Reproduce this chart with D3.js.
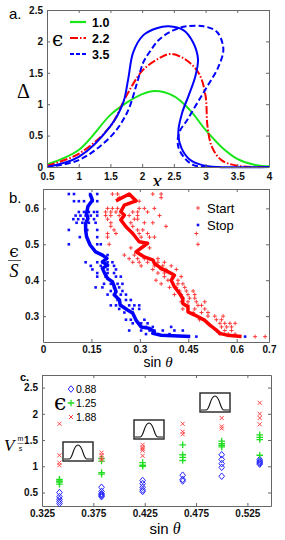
<!DOCTYPE html>
<html>
<head>
<meta charset="utf-8">
<script src="https://cdn.jsdelivr.net/npm/d3@7"></script>
<style>
  body { margin: 0; background: #fff; }
  svg { display: block; font-family: 'Liberation Sans', Arial, sans-serif; }
  .axis text { font: bold 10px 'Liberation Sans', Arial, sans-serif; fill: #111; }
  .axis path, .axis line { stroke: #666; }
  .serif { font-family: 'DejaVu Serif', 'Liberation Serif', serif; }
</style>
</head>
<body>
<svg id="fig" width="285" height="540"></svg>
<script>
// Panel a: profiles Delta(x) for three values of epsilon
var xTicksA = [ 0.5, 1, 1.5, 2, 2.5, 3, 3.5, 4 ];
var yTicksA = [ 0, 0.5, 1, 1.5, 2, 2.5 ];
var legendA = [ '1.0', '2.2', '3.5' ];
var profileGreen = [ [ 0.5, 0.04 ], [ 1.0, 0.27 ], [ 1.5, 0.83 ], [ 1.75, 1.02 ], [ 2.0, 1.16 ], [ 2.2, 1.21 ],
  [ 2.5, 1.13 ], [ 2.75, 0.91 ], [ 3.0, 0.59 ], [ 3.25, 0.32 ], [ 3.5, 0.13 ], [ 3.75, 0.04 ], [ 4.0, 0.01 ] ];
var profileRed = [ [ 0.5, 0.02 ], [ 1.0, 0.21 ], [ 1.5, 0.65 ], [ 1.75, 1.13 ], [ 2.0, 1.53 ], [ 2.25, 1.72 ],
  [ 2.45, 1.8 ], [ 2.7, 1.7 ], [ 2.9, 1.48 ], [ 3.0, 1.13 ], [ 3.03, 0.65 ], [ 3.1, 0.32 ], [ 3.25, 0.11 ],
  [ 3.5, 0.02 ], [ 4.0, 0.0 ] ];
var profileBlue = [ [ 0.5, 0.0 ], [ 1.0, 0.16 ], [ 1.5, 0.65 ], [ 1.7, 1.02 ], [ 1.78, 1.4 ], [ 1.86, 1.83 ],
  [ 2.02, 2.1 ], [ 2.23, 2.21 ], [ 2.42, 2.24 ], [ 2.65, 2.18 ], [ 2.8, 1.99 ], [ 2.88, 1.72 ], [ 2.84, 1.45 ],
  [ 2.73, 1.13 ], [ 2.63, 0.86 ], [ 2.57, 0.55 ], [ 2.62, 0.3 ], [ 2.75, 0.12 ], [ 2.95, 0.03 ], [ 3.2, 0.0 ],
  [ 4.0, 0.0 ] ];
var profileBlueDash = [ [ 0.5, 0.0 ], [ 1.0, 0.11 ], [ 1.5, 0.48 ], [ 1.76, 0.86 ], [ 1.92, 1.34 ], [ 2.02, 1.67 ],
  [ 2.13, 1.85 ], [ 2.28, 2.04 ], [ 2.5, 2.18 ], [ 2.7, 2.24 ], [ 2.97, 2.24 ], [ 3.18, 2.15 ], [ 3.28, 1.88 ],
  [ 3.2, 1.59 ], [ 3.03, 1.29 ], [ 2.87, 1.02 ], [ 2.71, 0.75 ], [ 2.58, 0.54 ], [ 2.57, 0.32 ], [ 2.68, 0.13 ],
  [ 2.81, 0.03 ], [ 3.0, 0.0 ] ];

// Panel b: start / stop thresholds, epsilon/S against sin(theta)
var xTicksB = [ 0, 0.15, 0.3, 0.45, 0.6, 0.7 ];
var yTicksB = [ 0.3, 0.4, 0.5, 0.6 ];
var stopRows = [
  { y: 0.64, x: [ 0.080, 0.096, 0.146, 0.168 ] },
  { y: 0.62, x: [ 0.096, 0.111, 0.127, 0.153, 0.168 ] },
  { y: 0.59, x: [ 0.111, 0.127, 0.142, 0.158, 0.168 ] },
  { y: 0.58, x: [ 0.101, 0.116, 0.132, 0.148, 0.168 ] },
  { y: 0.57, x: [ 0.094, 0.109, 0.125, 0.139, 0.158 ] },
  { y: 0.56, x: [ 0.104, 0.122, 0.142, 0.163 ] },
  { y: 0.54, x: [ 0.080, 0.137, 0.168 ] },
  { y: 0.52, x: [ 0.114, 0.168 ] },
  { y: 0.50, x: [ 0.080, 0.168, 0.179 ] },
  { y: 0.47, x: [ 0.184, 0.200 ] },
  { y: 0.45, x: [ 0.132, 0.168, 0.184, 0.200, 0.215 ] },
  { y: 0.44, x: [ 0.148, 0.179, 0.200, 0.220 ] },
  { y: 0.43, x: [ 0.153, 0.200, 0.226 ] },
  { y: 0.42, x: [ 0.168, 0.200, 0.220 ] },
  { y: 0.41, x: [ 0.168, 0.194, 0.226, 0.241 ] },
  { y: 0.39, x: [ 0.189, 0.210, 0.231, 0.246 ] },
  { y: 0.38, x: [ 0.163, 0.184, 0.220, 0.236 ] },
  { y: 0.37, x: [ 0.210, 0.226, 0.246 ] },
  { y: 0.36, x: [ 0.200, 0.220, 0.241, 0.257 ] },
  { y: 0.345, x: [ 0.231, 0.257, 0.272 ] },
  { y: 0.33, x: [ 0.210, 0.226, 0.241, 0.267, 0.283, 0.298 ] },
  { y: 0.32, x: [ 0.236, 0.278, 0.298 ] },
  { y: 0.31, x: [ 0.252, 0.278 ] },
  { y: 0.29, x: [ 0.257, 0.272, 0.314 ] },
  { y: 0.28, x: [ 0.278, 0.304, 0.324 ] },
  { y: 0.27, x: [ 0.319, 0.340, 0.397 ] },
  { y: 0.26, x: [ 0.267, 0.304, 0.330, 0.345, 0.371, 0.407, 0.433 ] },
  { y: 0.25, x: [ 0.319, 0.356, 0.392 ] },
  { y: 0.243, x: [ 0.475, 0.626 ] }
];
var startRows = [
  { y: 0.64, x: [ 0.215, 0.231, 0.340, 0.366 ] },
  { y: 0.63, x: [ 0.236, 0.366 ] },
  { y: 0.62, x: [ 0.288, 0.298 ] },
  { y: 0.60, x: [ 0.200, 0.215, 0.231, 0.298, 0.314, 0.345 ] },
  { y: 0.59, x: [ 0.194, 0.210, 0.226, 0.278, 0.293, 0.324 ] },
  { y: 0.58, x: [ 0.194, 0.210, 0.236, 0.267, 0.293, 0.361 ] },
  { y: 0.57, x: [ 0.200, 0.283, 0.293 ] },
  { y: 0.56, x: [ 0.210, 0.272, 0.314, 0.340 ] },
  { y: 0.55, x: [ 0.210, 0.278, 0.381 ] },
  { y: 0.54, x: [ 0.220, 0.293, 0.309 ] },
  { y: 0.53, x: [ 0.200, 0.226, 0.298, 0.324, 0.475 ] },
  { y: 0.52, x: [ 0.200, 0.304, 0.330, 0.345 ] },
  { y: 0.50, x: [ 0.205, 0.314, 0.480 ] },
  { y: 0.49, x: [ 0.272, 0.304, 0.330 ] },
  { y: 0.47, x: [ 0.252, 0.283, 0.304 ] },
  { y: 0.46, x: [ 0.267, 0.293, 0.314, 0.356 ] },
  { y: 0.45, x: [ 0.278, 0.298, 0.324, 0.356, 0.376 ] },
  { y: 0.44, x: [ 0.304, 0.345, 0.371, 0.397 ] },
  { y: 0.43, x: [ 0.340, 0.366, 0.381, 0.413 ] },
  { y: 0.42, x: [ 0.356, 0.376 ] },
  { y: 0.41, x: [ 0.376, 0.402, 0.428 ] },
  { y: 0.40, x: [ 0.350, 0.387, 0.418 ] },
  { y: 0.39, x: [ 0.366, 0.418, 0.433 ] },
  { y: 0.38, x: [ 0.392, 0.413, 0.439 ] },
  { y: 0.37, x: [ 0.423, 0.444, 0.465 ] },
  { y: 0.36, x: [ 0.407, 0.428, 0.449, 0.470 ] },
  { y: 0.35, x: [ 0.433, 0.454, 0.470 ] },
  { y: 0.34, x: [ 0.428, 0.449, 0.475, 0.501 ] },
  { y: 0.33, x: [ 0.449, 0.480, 0.491 ] },
  { y: 0.32, x: [ 0.433, 0.470, 0.501 ] },
  { y: 0.31, x: [ 0.465, 0.491, 0.511 ] },
  { y: 0.30, x: [ 0.511, 0.532, 0.558 ] },
  { y: 0.29, x: [ 0.485, 0.537, 0.553 ] },
  { y: 0.28, x: [ 0.548, 0.563, 0.579, 0.595 ] },
  { y: 0.27, x: [ 0.553, 0.569, 0.584 ] },
  { y: 0.26, x: [ 0.537, 0.563, 0.584 ] },
  { y: 0.25, x: [ 0.548, 0.574, 0.595 ] },
  { y: 0.243, x: [ 0.657, 0.688 ] }
];
var stopLine = [ [ 0.146, 0.64 ], [ 0.153, 0.623 ], [ 0.139, 0.605 ], [ 0.135, 0.586 ], [ 0.139, 0.572 ],
  [ 0.132, 0.558 ], [ 0.132, 0.54 ], [ 0.135, 0.521 ], [ 0.146, 0.498 ], [ 0.163, 0.479 ], [ 0.184, 0.47 ],
  [ 0.198, 0.461 ], [ 0.184, 0.451 ], [ 0.2, 0.442 ], [ 0.184, 0.433 ], [ 0.191, 0.419 ], [ 0.2, 0.405 ],
  [ 0.215, 0.396 ], [ 0.221, 0.382 ], [ 0.226, 0.368 ], [ 0.221, 0.359 ], [ 0.237, 0.345 ], [ 0.239, 0.331 ],
  [ 0.262, 0.317 ], [ 0.278, 0.308 ], [ 0.288, 0.289 ], [ 0.304, 0.27 ], [ 0.33, 0.266 ], [ 0.345, 0.256 ],
  [ 0.34, 0.252 ], [ 0.366, 0.247 ], [ 0.456, 0.243 ] ];
var startLine = [ [ 0.226, 0.621 ], [ 0.267, 0.64 ], [ 0.288, 0.621 ], [ 0.252, 0.609 ], [ 0.241, 0.591 ],
  [ 0.252, 0.581 ], [ 0.241, 0.568 ], [ 0.257, 0.549 ], [ 0.278, 0.53 ], [ 0.298, 0.507 ], [ 0.324, 0.503 ],
  [ 0.288, 0.479 ], [ 0.314, 0.465 ], [ 0.341, 0.456 ], [ 0.345, 0.447 ], [ 0.366, 0.433 ], [ 0.397, 0.419 ],
  [ 0.407, 0.414 ], [ 0.397, 0.4 ], [ 0.407, 0.382 ], [ 0.423, 0.363 ], [ 0.433, 0.349 ], [ 0.433, 0.335 ],
  [ 0.449, 0.326 ], [ 0.449, 0.312 ], [ 0.47, 0.303 ], [ 0.5, 0.289 ], [ 0.517, 0.275 ], [ 0.537, 0.261 ],
  [ 0.548, 0.252 ], [ 0.57, 0.247 ], [ 0.615, 0.243 ] ];

// Panel c: front velocity V against sin(theta), three amplitudes
var xTicksC = [ 0.325, 0.375, 0.425, 0.475, 0.525 ];
var yTicksC = [ 0.5, 1, 1.5, 2, 2.5 ];
var sinThetaC = [ 0.342, 0.383, 0.423, 0.462, 0.5, 0.537 ];
var legendC = [ '0.88', '1.25', '1.88' ];
var v088 = [ [ 0.5, 0.42, 0.37, 0.33, 0.29 ], [ 0.6, 0.52, 0.48, 0.46, 0.44, 0.42 ], [ 0.73, 0.67, 0.6, 0.55, 0.52 ],
  [ 0.83, 0.75, 0.72 ], [ 1.22, 1.13, 1.05, 0.98, 0.81 ], [ 1.13, 1.1, 1.08, 1.06, 1.04 ] ];
var v125 = [ [ 0.75, 0.72, 0.7, 0.66 ], [ 1.15, 1.1, 0.88, 0.85 ], [ 1.07, 1.02, 1.0 ], [ 1.41, 1.22, 1.17, 1.11 ],
  [ 1.48, 1.43, 1.4, 1.37 ], [ 1.6, 1.55, 1.51, 1.21 ] ];
var v188 = [ [ 1.81, 1.21, 1.07, 1.02 ], [ 1.26, 1.21, 1.16, 1.12 ], [ 1.41, 1.36, 1.33, 1.3, 1.2 ],
  [ 1.81, 1.66, 1.61 ], [ 1.92, 1.76, 1.72 ], [ 2.21, 2.0, 1.92, 1.8 ] ];

var svg = d3.select( '#fig' );

// Boxed axes with inward ticks on all four sides, labels on bottom and left only
function drawFrame( g, x, y, xTicks, yTicks, padBottom ) {
  var x0 = x.range()[ 0 ], x1 = x.range()[ 1 ];
  var y0 = y.range()[ 0 ], y1 = y.range()[ 1 ];
  var fmt = function( d ) { return String( d ); };
  g.append( 'g' ).attr( 'class', 'axis' )
    .attr( 'transform', 'translate(0,' + y0 + ')' )
    .call( d3.axisBottom( x ).tickValues( xTicks ).tickSizeInner( -3 ).tickSizeOuter( 0 )
      .tickPadding( padBottom ).tickFormat( fmt ) );
  g.append( 'g' ).attr( 'class', 'axis' )
    .attr( 'transform', 'translate(0,' + y1 + ')' )
    .call( d3.axisTop( x ).tickValues( xTicks ).tickSizeInner( -3 ).tickSizeOuter( 0 ).tickFormat( '' ) );
  g.append( 'g' ).attr( 'class', 'axis' )
    .attr( 'transform', 'translate(' + x0 + ',0)' )
    .call( d3.axisLeft( y ).tickValues( yTicks ).tickSizeInner( -3 ).tickSizeOuter( 0 )
      .tickPadding( 4 ).tickFormat( fmt ) );
  g.append( 'g' ).attr( 'class', 'axis' )
    .attr( 'transform', 'translate(' + x1 + ',0)' )
    .call( d3.axisRight( y ).tickValues( yTicks ).tickSizeInner( -3 ).tickSizeOuter( 0 ).tickFormat( '' ) );
}

//
// PANEL A
//
var ga = svg.append( 'g' );
var ax = d3.scaleLinear().domain( [ 0.5, 4 ] ).range( [ 47, 269 ] );
var ay = d3.scaleLinear().domain( [ 0, 2.5 ] ).range( [ 167, 10 ] );

var lineA = d3.line()
  .x( function( d ) { return ax( d[ 0 ] ); } )
  .y( function( d ) { return ay( d[ 1 ] ); } )
  .curve( d3.curveCatmullRom.alpha( 0.5 ) );

var profiles = [
  { data: profileGreen, color: '#19e619', dash: null },
  { data: profileRed, color: '#ff0000', dash: '8,2,1.5,2' },
  { data: profileBlue, color: '#0000ff', dash: null },
  { data: profileBlueDash, color: '#0000ff', dash: '6,3' }
];
ga.selectAll( '.profile' )
  .data( profiles )
  .enter().append( 'path' )
  .attr( 'class', 'profile' )
  .attr( 'd', function( d ) { return lineA( d.data ); } )
  .attr( 'fill', 'none' )
  .attr( 'stroke', function( d ) { return d.color; } )
  .attr( 'stroke-width', 2 )
  .attr( 'stroke-dasharray', function( d ) { return d.dash; } );

drawFrame( ga, ax, ay, xTicksA, yTicksA, 6 );

// Legend
var legA = ga.selectAll( '.legA' )
  .data( legendA )
  .enter().append( 'g' )
  .attr( 'class', 'legA' )
  .attr( 'transform', function( d, i ) { return 'translate(70,' + ( 22 + i * 16 ) + ')'; } );
legA.append( 'line' )
  .attr( 'x1', 0 ).attr( 'x2', 16 )
  .attr( 'stroke', function( d, i ) { return profiles[ i === 2 ? 3 : i ].color; } )
  .attr( 'stroke-width', 2.2 )
  .attr( 'stroke-dasharray', function( d, i ) { return i === 0 ? null : ( i === 1 ? '8,2,1.5,2' : '4,2' ); } );
legA.append( 'text' )
  .attr( 'x', 22 ).attr( 'dy', '0.36em' )
  .style( 'font', 'bold 12.5px "Liberation Sans", Arial' )
  .text( function( d ) { return d; } );
ga.append( 'text' ).attr( 'class', 'serif' )
  .attr( 'x', 52 ).attr( 'y', 46 )
  .style( 'font-size', '20px' )
  .text( 'ϵ' );

ga.append( 'text' ).attr( 'x', 9 ).attr( 'y', 19 ).style( 'font-size', '15px' ).text( 'a.' );
ga.append( 'text' )
  .attr( 'x', 17 ).attr( 'y', 98 )
  .style( 'font', '20px "Liberation Serif", serif' )
  .text( 'Δ' );
ga.append( 'text' )
  .attr( 'x', 157 ).attr( 'y', 188 )
  .attr( 'text-anchor', 'middle' )
  .style( 'font', 'italic 22px "Liberation Serif", serif' )
  .text( 'x' );

//
// PANEL B
//
var gb = svg.append( 'g' );
gb.append( 'rect' ).attr( 'x', 0 ).attr( 'y', 186 ).attr( 'width', 285 ).attr( 'height', 170 ).attr( 'fill', '#fff' );
var bx = d3.scaleLinear().domain( [ 0, 0.7 ] ).range( [ 43, 269 ] );
var by = d3.scaleLinear().domain( [ 0.228, 0.654 ] ).range( [ 342, 189 ] );

function flatten( rows ) {
  var pts = [];
  rows.forEach( function( r ) {
    r.x.forEach( function( v ) { pts.push( [ v, r.y ] ); } );
  } );
  return pts;
}

gb.selectAll( '.stop' )
  .data( flatten( stopRows ) )
  .enter().append( 'rect' )
  .attr( 'class', 'stop' )
  .attr( 'x', function( d ) { return bx( d[ 0 ] ) - 1.3; } )
  .attr( 'y', function( d ) { return by( d[ 1 ] ) - 1.3; } )
  .attr( 'width', 2.6 ).attr( 'height', 2.6 )
  .attr( 'fill', '#1010ff' );

gb.selectAll( '.start' )
  .data( flatten( startRows ) )
  .enter().append( 'path' )
  .attr( 'class', 'start' )
  .attr( 'transform', function( d ) { return 'translate(' + bx( d[ 0 ] ) + ',' + by( d[ 1 ] ) + ')'; } )
  .attr( 'd', 'M-2,0H2M0,-2V2' )
  .attr( 'stroke', '#ff3a3a' )
  .attr( 'stroke-width', 1 );

var lineB = d3.line()
  .x( function( d ) { return bx( d[ 0 ] ); } )
  .y( function( d ) { return by( d[ 1 ] ); } );

gb.append( 'path' ).attr( 'd', lineB( startLine ) )
  .attr( 'fill', 'none' ).attr( 'stroke', '#ff0000' ).attr( 'stroke-width', 3.5 )
  .attr( 'stroke-linejoin', 'round' );
gb.append( 'path' ).attr( 'd', lineB( stopLine ) )
  .attr( 'fill', 'none' ).attr( 'stroke', '#0000ff' ).attr( 'stroke-width', 3.5 )
  .attr( 'stroke-linejoin', 'round' );

drawFrame( gb, bx, by, xTicksB, yTicksB, 4 );

// Legend
gb.append( 'path' ).attr( 'd', 'M196,208H200M198,206V210' ).attr( 'stroke', '#ff3a3a' );
gb.append( 'rect' ).attr( 'x', 196.7 ).attr( 'y', 223.7 ).attr( 'width', 2.6 ).attr( 'height', 2.6 ).attr( 'fill', '#1010ff' );
gb.append( 'text' ).attr( 'x', 207 ).attr( 'y', 213 ).style( 'font-size', '13px' ).text( 'Start' );
gb.append( 'text' ).attr( 'x', 207 ).attr( 'y', 230 ).style( 'font-size', '13px' ).text( 'Stop' );

gb.append( 'text' ).attr( 'x', 9 ).attr( 'y', 203 ).style( 'font-size', '15px' ).text( 'b.' );
gb.append( 'text' ).attr( 'class', 'serif' )
  .attr( 'x', 14 ).attr( 'y', 257 ).attr( 'text-anchor', 'middle' )
  .style( 'font-size', '17px' ).text( 'ϵ' );
gb.append( 'line' ).attr( 'x1', 8 ).attr( 'x2', 21 ).attr( 'y1', 260.5 ).attr( 'y2', 260.5 )
  .attr( 'stroke', '#333' ).attr( 'stroke-width', 0.8 );
gb.append( 'text' )
  .attr( 'x', 14 ).attr( 'y', 277 ).attr( 'text-anchor', 'middle' )
  .style( 'font', 'italic 18px "Liberation Serif", serif' ).text( 'S' );
var sinB = gb.append( 'text' ).attr( 'x', 158 ).attr( 'y', 367 ).attr( 'text-anchor', 'middle' )
  .style( 'font-size', '14px' );
sinB.append( 'tspan' ).text( 'sin ' );
sinB.append( 'tspan' ).style( 'font', 'italic 15px "Liberation Serif", serif' ).text( 'θ' );

//
// PANEL C
//
var gc = svg.append( 'g' );
var cx = d3.scaleLinear().domain( [ 0.325, 0.548 ] ).range( [ 42, 271 ] );
var cy = d3.scaleLinear().domain( [ 0.243, 2.74 ] ).range( [ 506, 375 ] );

drawFrame( gc, cx, cy, xTicksC, yTicksC, 4 );

// Inset sketches of the release profile
var insets = [ { x: 63, y: 442 }, { x: 134, y: 420 }, { x: 200, y: 393 } ];
var inset = gc.selectAll( '.inset' )
  .data( insets )
  .enter().append( 'g' )
  .attr( 'class', 'inset' )
  .attr( 'transform', function( d ) { return 'translate(' + d.x + ',' + d.y + ')'; } );
inset.append( 'rect' )
  .attr( 'width', 30 ).attr( 'height', 19 )
  .attr( 'fill', '#fff' ).attr( 'stroke', '#222' ).attr( 'stroke-width', 1.4 );
inset.append( 'path' )
  .attr( 'd', 'M1,17L6,17C10,17 10,3 15,3C20,3 20,17 24,17L29,17' )
  .attr( 'fill', 'none' ).attr( 'stroke', '#111' ).attr( 'stroke-width', 1.2 );

function columnPoints( cols ) {
  var pts = [];
  cols.forEach( function( vals, i ) {
    vals.forEach( function( v ) { pts.push( [ sinThetaC[ i ], v ] ); } );
  } );
  return pts;
}

var markerC = [
  { data: v088, color: '#2a2aff', d: 'M0,-3.3L2.8,0L0,3.3L-2.8,0Z', width: 1 },
  { data: v125, color: '#22dd22', d: 'M-3.3,0H3.3M0,-3.3V3.3', width: 1.3 },
  { data: v188, color: '#ff4444', d: 'M-2,-2L2,2M-2,2L2,-2', width: 1 }
];
markerC.forEach( function( m ) {
  gc.append( 'g' ).selectAll( 'path' )
    .data( columnPoints( m.data ) )
    .enter().append( 'path' )
    .attr( 'transform', function( d ) { return 'translate(' + cx( d[ 0 ] ) + ',' + cy( d[ 1 ] ) + ')'; } )
    .attr( 'd', m.d )
    .attr( 'fill', 'none' )
    .attr( 'stroke', m.color )
    .attr( 'stroke-width', m.width );
} );

// Legend
var legC = gc.selectAll( '.legC' )
  .data( legendC )
  .enter().append( 'g' )
  .attr( 'class', 'legC' )
  .attr( 'transform', function( d, i ) { return 'translate(71,' + ( 389 + i * 14 ) + ')'; } );
legC.append( 'path' )
  .attr( 'd', function( d, i ) { return markerC[ i ].d; } )
  .attr( 'fill', 'none' )
  .attr( 'stroke', function( d, i ) { return markerC[ i ].color; } )
  .attr( 'stroke-width', function( d, i ) { return markerC[ i ].width; } );
legC.append( 'text' )
  .attr( 'x', 5 ).attr( 'dy', '0.36em' )
  .style( 'font-size', '10.5px' )
  .text( function( d ) { return d; } );
gc.append( 'text' ).attr( 'class', 'serif' )
  .attr( 'x', 54 ).attr( 'y', 410 )
  .style( 'font-size', '22px' ).text( 'ϵ' );

gc.append( 'text' ).attr( 'x', 20 ).attr( 'y', 381 ).style( 'font', 'bold 11px "Liberation Sans", Arial' ).text( 'c.' );
gc.append( 'text' )
  .attr( 'x', 4 ).attr( 'y', 451 )
  .style( 'font', 'italic 17px "Liberation Serif", serif' ).text( 'V' );
gc.append( 'text' ).attr( 'x', 20.5 ).attr( 'y', 441 ).attr( 'text-anchor', 'middle' )
  .style( 'font-size', '7px' ).text( 'm' );
gc.append( 'line' ).attr( 'x1', 17.5 ).attr( 'x2', 23.5 ).attr( 'y1', 443.5 ).attr( 'y2', 443.5 )
  .attr( 'stroke', '#333' ).attr( 'stroke-width', 0.6 );
gc.append( 'text' ).attr( 'x', 20.5 ).attr( 'y', 450.5 ).attr( 'text-anchor', 'middle' )
  .style( 'font-size', '7px' ).text( 's' );
var sinC = gc.append( 'text' ).attr( 'x', 165 ).attr( 'y', 534 ).attr( 'text-anchor', 'middle' )
  .style( 'font-size', '15px' );
sinC.append( 'tspan' ).text( 'sin ' );
sinC.append( 'tspan' ).style( 'font', 'italic 16px "Liberation Serif", serif' ).text( 'θ' );
</script>
</body>
</html>
